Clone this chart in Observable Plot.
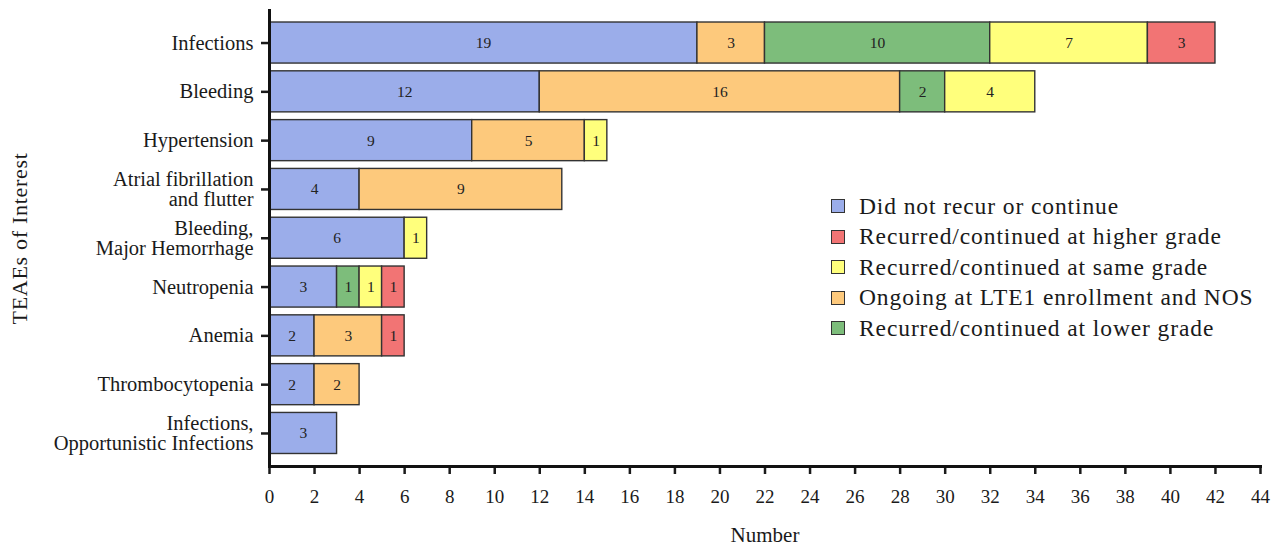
<!DOCTYPE html>
<html>
<head>
<meta charset="utf-8">
<script src="https://cdn.jsdelivr.net/npm/d3@7"></script>
<script src="https://cdn.jsdelivr.net/npm/@observablehq/plot@0.6"></script>
<style>
  html, body { margin: 0; padding: 0; background: #fff; }
  #wrap { position: relative; width: 1281px; height: 550px; font-family: "Liberation Serif", "Times New Roman", serif; }
  #legend { position: absolute; left: 831px; top: 191px; font-size: 23.5px; letter-spacing: 0.9px; color: #1a1a1a; }
  #legend .row { display: flex; align-items: center; height: 30.5px; white-space: nowrap; }
  #legend .sw { width: 12px; height: 12px; border: 1.6px solid #333; margin-right: 14px; }
</style>
</head>
<body>
<div id="wrap"></div>
<script>
const categories = [
  "Infections",
  "Bleeding",
  "Hypertension",
  "Atrial fibrillation\nand flutter",
  "Bleeding,\nMajor Hemorrhage",
  "Neutropenia",
  "Anemia",
  "Thrombocytopenia",
  "Infections,\nOpportunistic Infections"
];
// Stack order (left to right): did not recur, ongoing, lower, same, higher
const didNotRecur = [19, 12, 9, 4, 6, 3, 2, 2, 3];
const ongoing     = [3, 16, 5, 9, 0, 0, 3, 2, 0];
const lowerGrade  = [10, 2, 0, 0, 0, 1, 0, 0, 0];
const sameGrade   = [7, 4, 1, 0, 1, 1, 0, 0, 0];
const higherGrade = [3, 0, 0, 0, 0, 1, 1, 0, 0];

const seriesNames = [
  "Did not recur or continue",
  "Ongoing at LTE1 enrollment and NOS",
  "Recurred/continued at lower grade",
  "Recurred/continued at same grade",
  "Recurred/continued at higher grade"
];
const seriesValues = [didNotRecur, ongoing, lowerGrade, sameGrade, higherGrade];
const seriesColors = ["#9badea", "#fdc97c", "#7dbd7b", "#ffff7c", "#f27474"];
const legendOrder = [
  "Did not recur or continue",
  "Recurred/continued at higher grade",
  "Recurred/continued at same grade",
  "Ongoing at LTE1 enrollment and NOS",
  "Recurred/continued at lower grade"
];
const xTicks = d3.range(0, 45, 2);

const rows = [];
seriesNames.forEach((s, si) => {
  categories.forEach((c, ci) => {
    const v = seriesValues[si][ci];
    if (v > 0) rows.push({cat: c, status: s, value: v});
  });
});

const font = "Liberation Serif";
const chart = Plot.plot({
  width: 1281,
  height: 550,
  marginLeft: 269,
  marginRight: 21,
  marginTop: 10,
  marginBottom: 84,
  style: {fontFamily: font, background: "#fff", color: "#1a1a1a"},
  x: {domain: [0, 44]},
  y: {type: "band", domain: categories, padding: 0.159, round: false, insetTop: 4.25, insetBottom: 4.75},
  color: {domain: seriesNames, range: seriesColors},
  marks: [
    Plot.barX(rows, Plot.stackX({x: "value", y: "cat", fill: "status", z: "status", stroke: "#333", strokeWidth: 1.4})),
    Plot.textX(rows, Plot.stackX({x: "value", y: "cat", z: "status", text: d => String(d.value), fontSize: 15.5, fill: "#222"})),
    Plot.axisX({ticks: xTicks, tickSize: 8, tickPadding: 15, strokeWidth: 2.5, fontSize: 19, tickFormat: d => String(d),
      label: "Number", labelAnchor: "center", labelArrow: "none", labelOffset: 75, color: "#1a1a1a"}),
    Plot.axisY({tickSize: 8, tickPadding: 8, strokeWidth: 2.5, fontSize: 20.5, lineHeight: 1.0,
      label: "TEAEs of Interest", labelAnchor: "center", labelArrow: "none", labelOffset: 258, color: "#1a1a1a"}),
    Plot.frame({anchor: "left", stroke: "#111", strokeWidth: 3}),
    Plot.frame({anchor: "bottom", stroke: "#111", strokeWidth: 3})
  ]
});

const wrap = document.getElementById("wrap");
wrap.appendChild(chart);
chart.querySelectorAll("[aria-label='x-axis label'] text").forEach(t => t.setAttribute("font-size", 21));
chart.querySelectorAll("[aria-label='y-axis label'] text").forEach(t => { t.setAttribute("font-size", 22); t.setAttribute("letter-spacing", "0.7"); });

const legend = document.createElement("div");
legend.id = "legend";
legendOrder.forEach(name => {
  const row = document.createElement("div");
  row.className = "row";
  const sw = document.createElement("div");
  sw.className = "sw";
  sw.style.background = seriesColors[seriesNames.indexOf(name)];
  const lab = document.createElement("span");
  lab.textContent = name;
  row.appendChild(sw);
  row.appendChild(lab);
  legend.appendChild(row);
});
wrap.appendChild(legend);
</script>
</body>
</html>
